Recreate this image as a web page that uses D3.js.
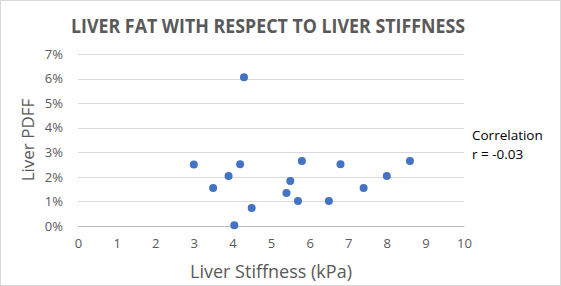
<!DOCTYPE html>
<html>
<head>
<meta charset="utf-8">
<script src="https://cdn.jsdelivr.net/npm/d3@7"></script>
<style>
  body { margin: 0; background: #fff; }
  svg text { font-family: "Open Sans", "Noto Sans", sans-serif; }
</style>
</head>
<body>
<div id="chart"></div>
<script>
'use strict';

let width = 561;
let height = 286;
let margin = { top: 54, bottom: 60, left: 78, right: 97 };

// liver stiffness (kPa) and liver PDFF (fraction)
const stiffness = [3.0, 3.5, 3.9, 4.05, 4.2, 4.3, 4.5, 5.4, 5.5, 5.7, 5.8, 6.5, 6.8, 7.4, 8.0, 8.6];
const pdff = [0.025, 0.0155, 0.0203, 0.0003, 0.0251, 0.0605, 0.0073, 0.0134, 0.0183, 0.0102, 0.0265, 0.0102, 0.0251, 0.0155, 0.0203, 0.0265];
const xTicks = [0, 1, 2, 3, 4, 5, 6, 7, 8, 9, 10];
const yTicks = [0, 0.01, 0.02, 0.03, 0.04, 0.05, 0.06, 0.07];

const points = stiffness.map((s, i) => ({ x: s, y: pdff[i] }));

const svg = d3.select("#chart")
    .append("svg")
    .attr("width", width)
    .attr("height", height);

// chart border
svg.append("rect")
    .attr("x", 0.5).attr("y", 0.5)
    .attr("width", width - 1).attr("height", height - 1)
    .attr("fill", "#fff")
    .attr("stroke", "#d9d9d9");

const x = d3.scaleLinear()
    .domain([0, 10])
    .range([margin.left, width - margin.right]);

const y = d3.scaleLinear()
    .domain([0, 0.07])
    .range([height - margin.bottom, margin.top]);

// gridlines
svg.append("g")
    .selectAll("line")
    .data(yTicks)
    .join("line")
    .attr("x1", x(0))
    .attr("x2", x(10))
    .attr("y1", d => Math.round(y(d)) + 0.5)
    .attr("y2", d => Math.round(y(d)) + 0.5)
    .attr("stroke", "#d9d9d9")
    .attr("stroke-width", 1);

// y axis
const yAxis = svg.append("g")
    .attr("transform", `translate(${x(0)},0)`)
    .call(d3.axisLeft(y).tickValues(yTicks).tickFormat(d3.format(".0%")).tickSize(0).tickPadding(15));
yAxis.select(".domain").remove();
yAxis.selectAll("text")
    .attr("fill", "#595959")
    .style("font-size", "13px");

// x axis
const xAxis = svg.append("g")
    .attr("transform", `translate(0,${y(0)})`)
    .call(d3.axisBottom(x).tickValues(xTicks).tickSize(0).tickPadding(13));
xAxis.select(".domain")
    .attr("stroke", "#bfbfbf");
xAxis.selectAll("text")
    .attr("fill", "#595959")
    .style("font-size", "13px");

// points
svg.append("g")
    .selectAll("circle")
    .data(points)
    .join("circle")
    .attr("cx", d => x(d.x))
    .attr("cy", d => y(d.y))
    .attr("r", 4)
    .attr("fill", "#4472c4");

// title
svg.append("text")
    .attr("x", 268)
    .attr("y", 33)
    .attr("text-anchor", "middle")
    .attr("fill", "#595959")
    .attr("textLength", 394)
    .attr("lengthAdjust", "spacingAndGlyphs")
    .style("font-size", "20px")
    .style("font-weight", "bold")
    .text("LIVER FAT WITH RESPECT TO LIVER STIFFNESS");

// axis titles
svg.append("text")
    .attr("x", 271)
    .attr("y", 278)
    .attr("text-anchor", "middle")
    .attr("fill", "#595959")
    .style("font-size", "18px")
    .text("Liver Stiffness (kPa)");

svg.append("text")
    .attr("transform", "translate(34,140) rotate(-90)")
    .attr("text-anchor", "middle")
    .attr("fill", "#595959")
    .style("font-size", "17px")
    .text("Liver PDFF");

// correlation note
svg.append("text")
    .attr("x", 472)
    .attr("y", 140)
    .attr("fill", "#000")
    .style("font-size", "13.5px")
    .text("Correlation");

svg.append("text")
    .attr("x", 472)
    .attr("y", 159)
    .attr("fill", "#000")
    .style("font-size", "13.5px")
    .text("r = -0.03");
</script>
</body>
</html>
